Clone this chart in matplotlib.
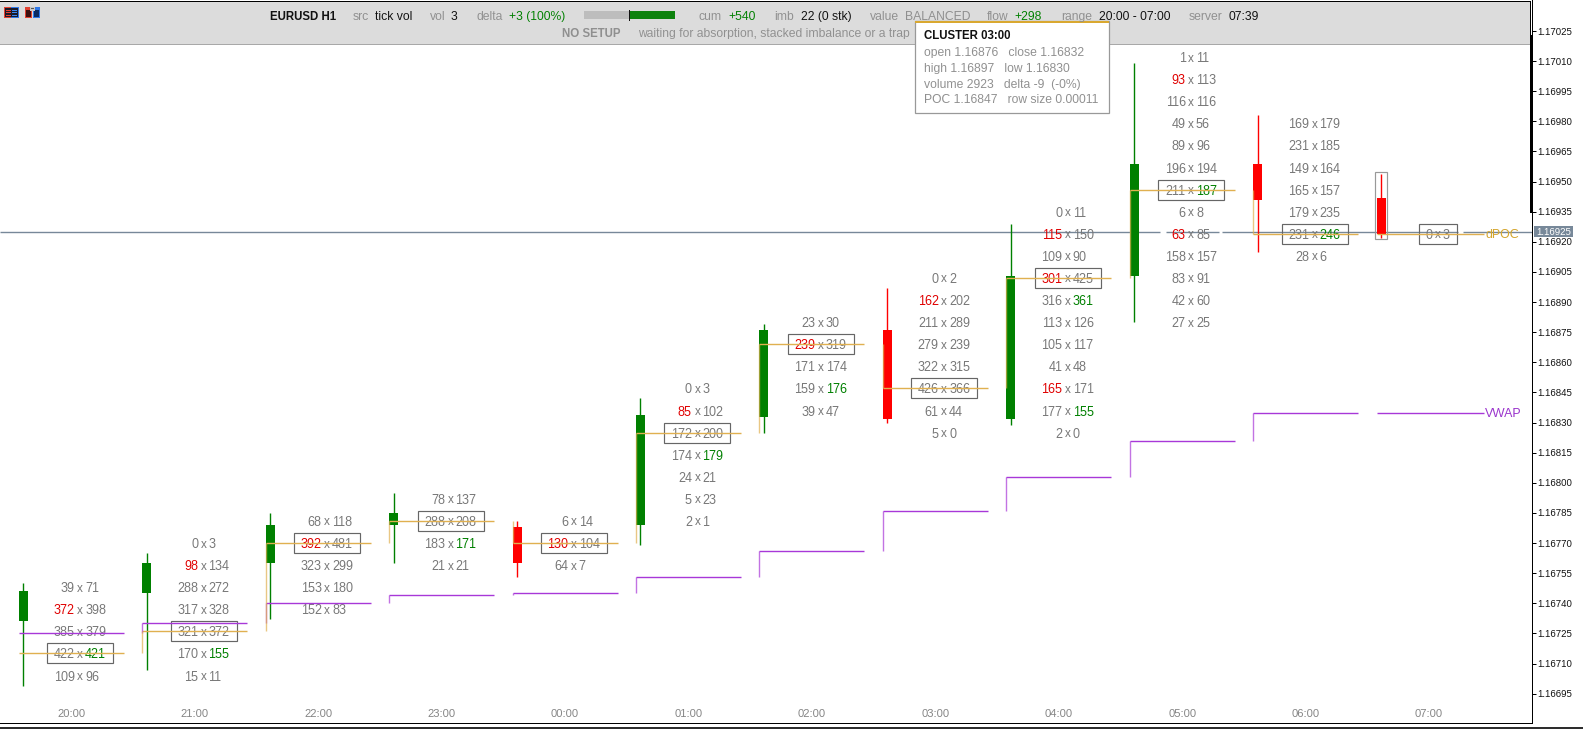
import matplotlib
matplotlib.use("Agg")
import matplotlib.pyplot as plt
from matplotlib.patches import Rectangle
from matplotlib.transforms import blended_transform_factory

plt.rcParams['font.family'] = ['Liberation Sans', 'DejaVu Sans']
plt.rcParams['text.hinting'] = 'no_autohint'

W, H = 1583, 729
hours = ["20:00", "21:00", "22:00", "23:00", "00:00", "01:00", "02:00", "03:00", "04:00", "05:00", "06:00", "07:00"]
opens = [1.16731, 1.16745, 1.16760, 1.16779, 1.16778, 1.16779, 1.16833, 1.16876, 1.16832, 1.16903, 1.16959, 1.16942]
highs = [1.16750, 1.16765, 1.16785, 1.16795, 1.16781, 1.16842, 1.16879, 1.16897, 1.16929, 1.17009, 1.16983, 1.16954]
lows = [1.16699, 1.16707, 1.16732, 1.16760, 1.16753, 1.16769, 1.16825, 1.16830, 1.16829, 1.16880, 1.16915, 1.16922]
closes = [1.16746, 1.16760, 1.16779, 1.16785, 1.16760, 1.16834, 1.16876, 1.16832, 1.16903, 1.16959, 1.16941, 1.16924]
poc = [1.16715, 1.16726, 1.16770, 1.16781, 1.16770, 1.16825, 1.16869, 1.16847, 1.16902, 1.16946, 1.16924, 1.16924]
vwap = [1.16725, 1.16730, 1.16740, 1.16744, 1.16745, 1.16753, 1.16766, 1.16786, 1.16803, 1.16821, 1.16835, 1.16835]
poc_row = [3, 4, 1, 1, 1, 2, 1, 5, 3, 6, 5, 0]
bids = [[39, 372, 385, 422, 109],
        [0, 98, 288, 317, 321, 170, 15],
        [68, 392, 323, 153, 152],
        [78, 288, 183, 21],
        [6, 130, 64],
        [0, 85, 172, 174, 24, 5, 2],
        [23, 239, 171, 159, 39],
        [0, 162, 211, 279, 322, 426, 61, 5],
        [0, 115, 109, 301, 316, 113, 105, 41, 165, 177, 2],
        [1, 93, 116, 49, 89, 196, 211, 6, 63, 158, 83, 42, 27],
        [169, 231, 149, 165, 179, 231, 28],
        [0]]
asks = [[71, 398, 379, 421, 96],
        [3, 134, 272, 328, 372, 155, 11],
        [118, 481, 299, 180, 83],
        [137, 208, 171, 21],
        [14, 104, 7],
        [3, 102, 200, 179, 21, 23, 1],
        [30, 319, 174, 176, 47],
        [2, 202, 289, 239, 315, 366, 44, 0],
        [11, 150, 90, 425, 361, 126, 117, 48, 171, 155, 0],
        [11, 113, 116, 56, 96, 194, 187, 8, 85, 157, 91, 60, 25],
        [179, 185, 164, 157, 235, 246, 6],
        [3]]
red_bids = [(0, 1), (1, 1), (2, 1), (4, 1), (5, 1), (6, 1), (7, 1), (8, 1), (8, 3), (8, 8), (9, 1), (9, 8)]
green_asks = [(0, 3), (1, 5), (3, 2), (5, 3), (6, 3), (8, 4), (8, 9), (9, 6), (10, 5)]
row_size = 0.00011
price_ticks = [1.17025, 1.17010, 1.16995, 1.16980, 1.16965, 1.16950, 1.16935, 1.16920, 1.16905, 1.16890,
               1.16875, 1.16860, 1.16845, 1.16830, 1.16815, 1.16800, 1.16785, 1.16770, 1.16755, 1.16740,
               1.16725, 1.16710, 1.16695]
last_price = 1.16925

GREEN, RED = "#008000", "#ff0000"
GREY = "#777777"
ORANGE = "#e0b050"
PURPLE = "#a838d8"
px_bar = 123.43
px_price = 200800.0
x0_px = 23.3
axis_px = 1531.5
bottom_px = 723.0
LW = 0.72

fig = plt.figure(figsize=(W / 100, H / 100), dpi=100, facecolor="white")
ax = fig.add_axes([0, 1 - bottom_px / H, axis_px / W, bottom_px / H])
ax.set_xlim(-x0_px / px_bar, (axis_px - x0_px) / px_bar)
ax.set_ylim(1.17025 - (bottom_px - 31) / px_price, 1.17025 + 31 / px_price)
for s in ("left", "top"):
    ax.spines[s].set_visible(False)
for s in ("right", "bottom"):
    ax.spines[s].set_linewidth(LW)
    ax.spines[s].set_color("black")
ax.set_xticks([])
ax.yaxis.tick_right()
ax.set_yticks(price_ticks)
ax.set_yticklabels([f"{p:.5f}" for p in price_ticks], fontsize=6.9, color="#111111")
ax.tick_params(axis="y", length=3, width=LW, pad=1.0, color="black")


def dx(px):
    return px / px_bar


# last-price line (with the small breaks seen in the reference)
for a, b in [(0, 1160), (1166, 1219), (1222, 1458), (1463, axis_px)]:
    ax.hlines(last_price, dx(a - x0_px), dx(b - x0_px), color="#778899", lw=1.0, zorder=2)

# candles
for i in range(len(hours)):
    col = GREEN if closes[i] >= opens[i] else RED
    ax.vlines(i, lows[i], highs[i], color=col, lw=1.0, zorder=3)
    ax.bar(i, abs(closes[i] - opens[i]), bottom=min(opens[i], closes[i]), width=dx(9),
           color=col, linewidth=0, zorder=3)

# cluster rows
cx = dx(57)
for i in range(len(hours)):
    for k in range(len(bids[i])):
        y = poc[i] + (poc_row[i] - k) * row_size
        bc = "#e00000" if (i, k) in red_bids else GREY
        ac = GREEN if (i, k) in green_asks else GREY
        ax.text(i + cx - dx(5.5), y, str(bids[i][k]), ha="right", va="center_baseline", fontsize=9.0, color=bc, zorder=4)
        ax.text(i + cx, y, "x", ha="center", va="center_baseline", fontsize=8.6, color=GREY, zorder=4)
        ax.text(i + cx + dx(4.8), y, str(asks[i][k]), ha="left", va="center_baseline", fontsize=9.0, color=ac, zorder=4)
    w = 38 if i == len(hours) - 1 else 66
    ax.add_patch(Rectangle((i + cx - dx(w / 2), poc[i] - 10 / px_price), dx(w), 20 / px_price,
                           fill=False, ec="#666666", lw=0.85, zorder=5))

# POC and VWAP step lines
for i in range(len(hours)):
    left = i - dx(4.5)
    right = left + dx(107 if i == len(hours) - 1 else 105)
    ax.hlines(vwap[i], left, right, color=PURPLE, lw=1.0, zorder=6)
    ax.hlines(poc[i], left, right, color=ORANGE, lw=1.0, zorder=6)
    if i > 0:
        ax.vlines(left, vwap[i - 1], vwap[i], color=PURPLE, lw=1.0, alpha=0.7, zorder=6)
        ax.vlines(left, poc[i - 1], poc[i], color=ORANGE, lw=1.0, alpha=0.7, zorder=6)

# box around the forming bar
n = len(hours) - 1
ax.add_patch(Rectangle((n - dx(6), lows[n] - 1.5 / px_price), dx(12), (highs[n] - lows[n]) + 3 / px_price,
                       fill=False, ec="#999999", lw=0.85, zorder=5))
ax.text(n + dx(104), poc[n], "dPOC", color="#d4a52c", fontsize=8.9, va="center_baseline", ha="left", zorder=6)
ax.text(n + dx(104), vwap[n], "VWAP", color="#9932cc", fontsize=8.9, va="center_baseline", ha="left", zorder=6)

# time labels
tr = blended_transform_factory(ax.transData, fig.transFigure)
for i, h in enumerate(hours):
    ax.text(i + dx(48), 1 - 713 / H, h, transform=tr, ha="center", va="center_baseline",
            fontsize=8.0, color="#858585", zorder=6)

# overlay in pixel space for the terminal panel
ov = fig.add_axes([0, 0, 1, 1], facecolor="none")
ov.set_xlim(0, W)
ov.set_ylim(H, 0)
ov.axis("off")


def rect(x0, y0, x1, y1, **kw):
    kw.setdefault("linewidth", 0)
    ov.add_patch(Rectangle((x0, y0), x1 - x0, y1 - y0, **kw))


def label(x, y, s, color="#8f8f8f", size=8.7, weight="normal", ha="left"):
    ov.text(x, y, s, color=color, fontsize=size, fontweight=weight, ha=ha, va="center_baseline")


rect(0, 2, axis_px, 44, facecolor="#dcdcdc")
rect(0, 44, axis_px, 45, facecolor="#a8a8a8")
rect(0, 1, axis_px, 2, facecolor="black")
rect(axis_px - 1, 1, axis_px, 45, facecolor="black")
rect(1530, 35, 1533, 213, facecolor="black")
rect(0, 727, W, H, facecolor="#2e2e2e")

# icons
rect(4, 7, 19, 18, facecolor="#e04030")
rect(11.5, 7, 19, 18, facecolor="#2f78e8")
rect(5, 8, 18, 17, facecolor="#1a1a2a")
for yy in (9.5, 12, 14.5):
    rect(6, yy, 11, yy + 1, facecolor="#e84030")
    rect(12, yy, 17, yy + 1, facecolor="#3a88f0")
rect(25, 7, 32, 18, facecolor="#e04030")
rect(33, 7, 40, 18, facecolor="#2f78e8")
rect(26, 10, 31, 17, facecolor="#3a1010")
rect(34, 10, 39, 17, facecolor="#0a2a60")
rect(30, 7, 35, 10.5, facecolor="#c8c8c8")
rect(31, 8, 34, 9.2, facecolor="#555555")

R1, R2 = 15.7, 32.7
label(270, R1, "EURUSD H1", "#111111", size=8.3, weight="bold")
label(353, R1, "src"); label(375.5, R1, "tick vol", "#111111")
label(429.5, R1, "vol"); label(451, R1, "3", "#111111")
label(476, R1, "delta"); label(509, R1, "+3 (100%)", GREEN)
rect(584, 11, 629, 19, facecolor="#bdbdbd")
rect(629, 11, 675, 19, facecolor="#0d820d")
rect(629, 10, 630, 21, facecolor="#111111")
label(698, R1, "cum"); label(728, R1, "+540", GREEN)
label(774, R1, "imb"); label(801, R1, "22 (0 stk)", "#111111")
label(869.5, R1, "value"); label(905, R1, "BALANCED")
label(986.6, R1, "flow"); label(1014.8, R1, "+298", GREEN)
label(1061, R1, "range"); label(1099, R1, "20:00 - 07:00", "#111111")
label(1189, R1, "server"); label(1229, R1, "07:39", "#111111")
label(562, R2, "NO SETUP", "#8f8f8f", size=8.3, weight="bold")
label(638, R2, "waiting for absorption, stacked imbalance or a trap")

# tooltip
rect(915.5, 21, 1109, 112.5, facecolor="white", edgecolor="#999999", linewidth=0.9)
rect(915.5, 21, 1109, 23, facecolor="#d9a830")
label(924, 34.7, "CLUSTER 03:00", "#111111", size=8.3, weight="bold")
for yy, s in zip((51, 67, 83, 98.7), ("open 1.16876   close 1.16832", "high 1.16897   low 1.16830",
                                      "volume 2923   delta -9  (-0%)", "POC 1.16847   row size 0.00011")):
    label(924, yy, s, "#8f8f8f")

# last-price tag
yy = 31 + (1.17025 - last_price) * px_price
rect(1534, yy - 5.5, 1572.7, yy + 5.5, facecolor="#778899")
ov.text(1553.3, yy, f"{last_price:.5f}", color="white", fontsize=6.9, ha="center", va="center_baseline")

fig.savefig("out.png", dpi=100)
